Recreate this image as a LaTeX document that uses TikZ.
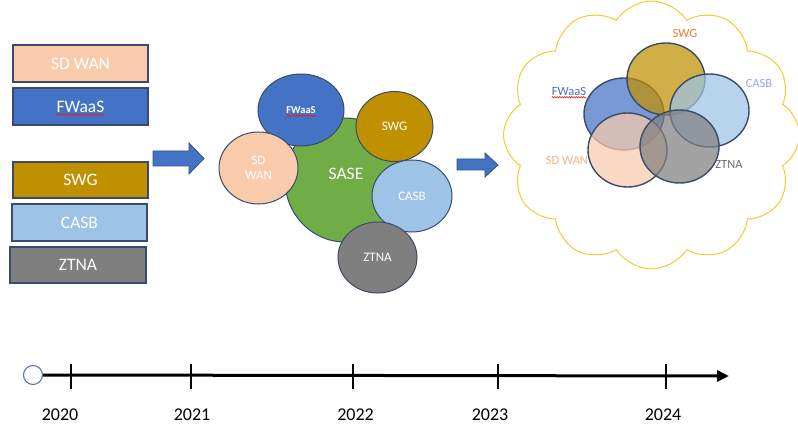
\documentclass[tikz,border=0pt]{standalone}
\usepackage{fontspec}
\setmainfont{Carlito}
\usetikzlibrary{shapes.geometric,shapes.symbols,decorations.pathmorphing,arrows.meta}

\definecolor{peach}{HTML}{F8CBAD}
\definecolor{fwblue}{HTML}{4472C4}
\definecolor{gold}{HTML}{BF9000}
\definecolor{skyb}{HTML}{9DC3E6}
\definecolor{greyz}{HTML}{7F7F7F}
\definecolor{sasegreen}{HTML}{70AD47}
\definecolor{edge}{HTML}{3B4A68}
\definecolor{arrowedge}{HTML}{2F528F}
\definecolor{cloudy}{HTML}{FFC62A}
\definecolor{swgorange}{HTML}{ED7D31}
\definecolor{casblabel}{HTML}{8FAADC}
\definecolor{sdlabel}{HTML}{F4B183}
\definecolor{ztnalabel}{HTML}{6F6F6F}
\definecolor{spellred}{HTML}{E02020}
\definecolor{ringblue}{HTML}{50699A}

\tikzset{
  svcbox/.style={draw=edge, line width=1.2pt, minimum width=135pt, minimum height=37pt,
    inner sep=0pt, text=white, font=\fontsize{17.5}{19}\selectfont},
  bubble/.style={ellipse, draw=edge, line width=1pt, inner sep=0pt, text=white,
    font=\fontsize{13}{15}\selectfont, align=center},
  venn/.style={ellipse, draw=edge, line width=1.4pt, inner sep=0pt, fill opacity=0.72},
  vennlabel/.style={font=\fontsize{12.5}{14}\selectfont, inner sep=0pt},
  blockarrow/.style={fill=fwblue, draw=arrowedge, line width=0.8pt},
  squiggle/.style={draw=spellred, line width=0.6pt,
    decorate, decoration={snake, segment length=2.4pt, amplitude=0.7pt}},
  yeartick/.style={line width=1.4pt},
  yearlabel/.style={font=\fontsize{18}{20}\selectfont, inner sep=0pt},
}

\begin{document}
\begin{tikzpicture}[x=1pt, y=-1pt]
\useasboundingbox (0,0) rectangle (798,425);

% ---- separate services ----
\node[svcbox, fill=peach]  (b1) at (80.5,63.5) {SD WAN};
\node[svcbox, fill=fwblue] (b2) at (80.5,106.5) {};
\node[inner sep=0pt, text=white, font=\fontsize{17.5}{19}\selectfont] (b2t) at (b2.center) {FWaaS};
\draw[squiggle] ([yshift=-2.5pt]b2t.base west) -- ([yshift=-2.5pt]b2t.base east);
\node[svcbox, fill=gold, minimum height=36pt]  (b3) at (80.5,180) {SWG};
\node[svcbox, fill=skyb]  (b4) at (79.5,222.5) {CASB};
\node[svcbox, fill=greyz, minimum width=136pt, minimum height=36pt] (b5) at (78,265) {ZTNA};

% ---- block arrows ----
\draw[blockarrow] (153,151) -- (189,151) -- (189,143) -- (204,158.5) -- (189,174)
  -- (189,166) -- (153,166) -- cycle;
\draw[blockarrow] (457,159) -- (485,159) -- (485,153) -- (498,165) -- (485,177)
  -- (485,170) -- (457,170) -- cycle;

% ---- SASE cluster ----
\node[bubble, fill=sasegreen, minimum width=120pt, minimum height=124pt] (sase) at (345,180) {};
\node[inner sep=0pt, text=white, font=\fontsize{17.5}{19}\selectfont] (saset) at (346,174) {SASE};
\node[bubble, fill=fwblue, minimum width=86pt, minimum height=72pt] (mfw) at (301,110) {};
\node[inner sep=0pt, text=white, font=\bfseries\fontsize{10.5}{12}\selectfont] (mfwt) at (mfw.center) {FWaaS};
\draw[squiggle] ([yshift=-2.2pt]mfwt.base west) -- ([yshift=-2.2pt]mfwt.base east);
\node[bubble, fill=peach, minimum width=79pt, minimum height=72pt] (msd) at (258.5,168) {SD\\WAN};
\node[bubble, fill=gold, minimum width=77pt, minimum height=70pt] (mswg) at (394.5,126.5) {SWG};
\node[bubble, fill=skyb, minimum width=80pt, minimum height=72pt] (mcasb) at (412,196) {CASB};
\node[bubble, fill=greyz, minimum width=79pt, minimum height=71pt] (mztna) at (377.5,257.5) {ZTNA};

% ---- converged cloud ----
\node[cloud, draw=cloudy, line width=1pt, cloud puffs=12, cloud puff arc=115,
  cloud ignores aspect, minimum width=296pt, minimum height=268pt, inner sep=0pt]
  (cl) at (651.5,135) {};
\node[venn, fill=fwblue, minimum width=80pt, minimum height=72pt] (vfw) at (624,114) {};
\node[venn, fill=gold, minimum width=78pt, minimum height=72pt] (vswg) at (666,79) {};
\node[venn, fill=skyb, minimum width=79pt, minimum height=73pt] (vcasb) at (709.5,110.5) {};
\node[venn, fill=peach, minimum width=79pt, minimum height=74pt] (vsd) at (627.5,150) {};
\node[venn, fill=greyz, minimum width=79pt, minimum height=73pt] (vzt) at (679.5,146.5) {};

\node[vennlabel, text=swgorange] (lswg) at (685,33.5) {SWG};
\node[vennlabel, text=casblabel] (lcasb) at (759,83.5) {CASB};
\node[vennlabel, text=fwblue] (lfw) at (569,91) {FWaaS};
\draw[squiggle] ([yshift=-2.2pt]lfw.base west) -- ([yshift=-2.2pt]lfw.base east);
\node[vennlabel, text=sdlabel] (lsd) at (567,160) {SD WAN};
\node[vennlabel, text=ztnalabel] (lzt) at (729,164.5) {ZTNA};

% ---- timeline ----
\node[ellipse, draw=ringblue, fill=white, line width=1pt, minimum width=19pt,
  minimum height=19pt, inner sep=0pt] (t0) at (33,375) {};
\coordinate (tend) at (729,376);
\draw[line width=3pt, -{Triangle[length=12pt,width=11pt]}] (t0.east) -- (tend);
\foreach \x/\yr [count=\i] in {71/2020, 191/2021, 353/2022, 498/2023, 666/2024} {
  \coordinate (tk\i) at (\x,375.5);
  \draw[yeartick] ([yshift=-13pt]tk\i) -- ([yshift=12pt]tk\i);
}
\node[yearlabel] (y1) at (60,415) {2020};
\node[yearlabel] (y2) at (192,415) {2021};
\node[yearlabel] (y3) at (355.5,415) {2022};
\node[yearlabel] (y4) at (490,415) {2023};
\node[yearlabel] (y5) at (663,415) {2024};
\end{tikzpicture}
\end{document}
